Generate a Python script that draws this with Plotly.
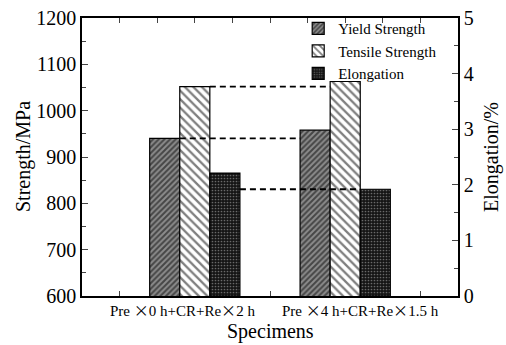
import plotly.graph_objects as go

# Specimen conditions and measured properties
TIMES = "<span style='font-family:Noto Sans CJK SC'>×</span>"
specimens = [
    f"Pre {TIMES}0 h+CR+Re{TIMES}2 h",
    f"Pre {TIMES}4 h+CR+Re{TIMES}1.5 h",
]
label_shift = [-12, 15]            # px nudges of the two category labels
positions = [1, 2]
yield_strength = [940, 958]        # MPa
tensile_strength = [1052, 1063]    # MPa
elongation = [2.21, 1.92]          # %

FONT = "Liberation Serif"
BAR_W = 0.2
OFFSETS = {"yield": -0.3, "tensile": -0.1, "elong": 0.1}

fig = go.Figure()

fig.add_trace(go.Bar(
    name="Yield Strength", x=positions, y=yield_strength,
    width=BAR_W, offset=OFFSETS["yield"], xaxis="x", yaxis="y",
    marker=dict(color="white", line=dict(color="black", width=1.2),
                pattern=dict(shape="/", fgcolor="black", bgcolor="#8c8c8c",
                             size=4, solidity=0.5)),
))
fig.add_trace(go.Bar(
    name="Tensile Strength", x=positions, y=tensile_strength,
    width=BAR_W, offset=OFFSETS["tensile"], xaxis="x", yaxis="y",
    marker=dict(color="white", line=dict(color="black", width=1.2),
                pattern=dict(shape="\\", fgcolor="black", bgcolor="white",
                             size=6, solidity=0.38)),
))
fig.add_trace(go.Bar(
    name="Elongation", x=positions, y=elongation,
    width=BAR_W, offset=OFFSETS["elong"], xaxis="x", yaxis="y2",
    marker=dict(color="black", line=dict(color="black", width=1.2),
                pattern=dict(shape=".", fgcolor="#bdbdbd", bgcolor="#151515",
                             size=3, solidity=0.25)),
))

# Dashed guide lines comparing the two conditions
dash = dict(color="black", width=1.8, dash="6px,4px")
# tensile level of the first condition
fig.add_shape(type="line", xref="x", yref="y",
              x0=positions[0] + OFFSETS["tensile"] + BAR_W,
              x1=positions[1] + OFFSETS["tensile"],
              y0=tensile_strength[0], y1=tensile_strength[0], line=dash)
# yield level of the first condition
fig.add_shape(type="line", xref="x", yref="y",
              x0=positions[0] + OFFSETS["yield"] + BAR_W,
              x1=positions[1] + OFFSETS["yield"],
              y0=yield_strength[0], y1=yield_strength[0], line=dash)
# elongation level of the second condition
fig.add_shape(type="line", xref="x", yref="y2",
              x0=positions[0] + OFFSETS["elong"] + BAR_W,
              x1=positions[1] + OFFSETS["elong"],
              y0=elongation[1], y1=elongation[1], line=dash)

# Category labels under each group
for pos, label, dx in zip(positions, specimens, label_shift):
    fig.add_annotation(x=pos, y=0, xref="x", yref="paper",
                       text=label, showarrow=False,
                       xanchor="center", yanchor="top", xshift=dx, yshift=-1,
                       font=dict(size=15, family=FONT, color="black"))

# Axis titles
title_font = dict(size=20, family=FONT, color="black")
fig.add_annotation(x=0.5, y=0, xref="paper", yref="paper", text="Specimens",
                   showarrow=False, xanchor="center", yanchor="middle",
                   yshift=-35, font=title_font)
fig.add_annotation(x=0, y=0.5, xref="paper", yref="paper", text="Strength/MPa",
                   showarrow=False, xanchor="center", yanchor="middle",
                   xshift=-59, textangle=-90, font=title_font)
fig.add_annotation(x=1, y=0.5, xref="paper", yref="paper", text="Elongation/%",
                   showarrow=False, xanchor="center", yanchor="middle",
                   xshift=33, textangle=-90, font=title_font)

fig.update_layout(
    width=506, height=345,
    margin=dict(l=82, r=48, t=16, b=49),
    paper_bgcolor="white", plot_bgcolor="white",
    font=dict(family=FONT, color="black", size=20),
    showlegend=True,
    legend=dict(x=0.575, y=1.021, xanchor="left", yanchor="top",
                bgcolor="rgba(0,0,0,0)", font=dict(size=15, family=FONT),
                tracegroupgap=0, itemwidth=30),
    xaxis=dict(
        range=[0.25, 2.75], tickvals=positions, showticklabels=False,
        automargin=False,
        ticks="inside", ticklen=5, tickwidth=1.2,
        minor=dict(dtick=0.25, tick0=0.25, ticks="inside", ticklen=5, tickwidth=1.2),
        showline=True, linewidth=1.6, linecolor="black", mirror="ticks",
        showgrid=False, zeroline=False, layer="below traces",
    ),
    yaxis=dict(
        range=[600, 1200], dtick=100, tick0=600, automargin=False,
        ticks="inside", ticklen=6, tickwidth=1.3,
        minor=dict(dtick=50, ticks="inside", ticklen=4, tickwidth=1.2),
        showline=True, linewidth=1.6, linecolor="black",
        showgrid=False, zeroline=False, tickfont=dict(size=20, family=FONT),
    ),
    yaxis2=dict(
        range=[0, 5], dtick=1, overlaying="y", side="right", automargin=False,
        ticks="inside", ticklen=6, tickwidth=1.3,
        minor=dict(dtick=0.5, ticks="inside", ticklen=4, tickwidth=1.2),
        showline=True, linewidth=1.6, linecolor="black",
        showgrid=False, zeroline=False, tickfont=dict(size=20, family=FONT),
    ),
)

fig.write_html("out.html")
